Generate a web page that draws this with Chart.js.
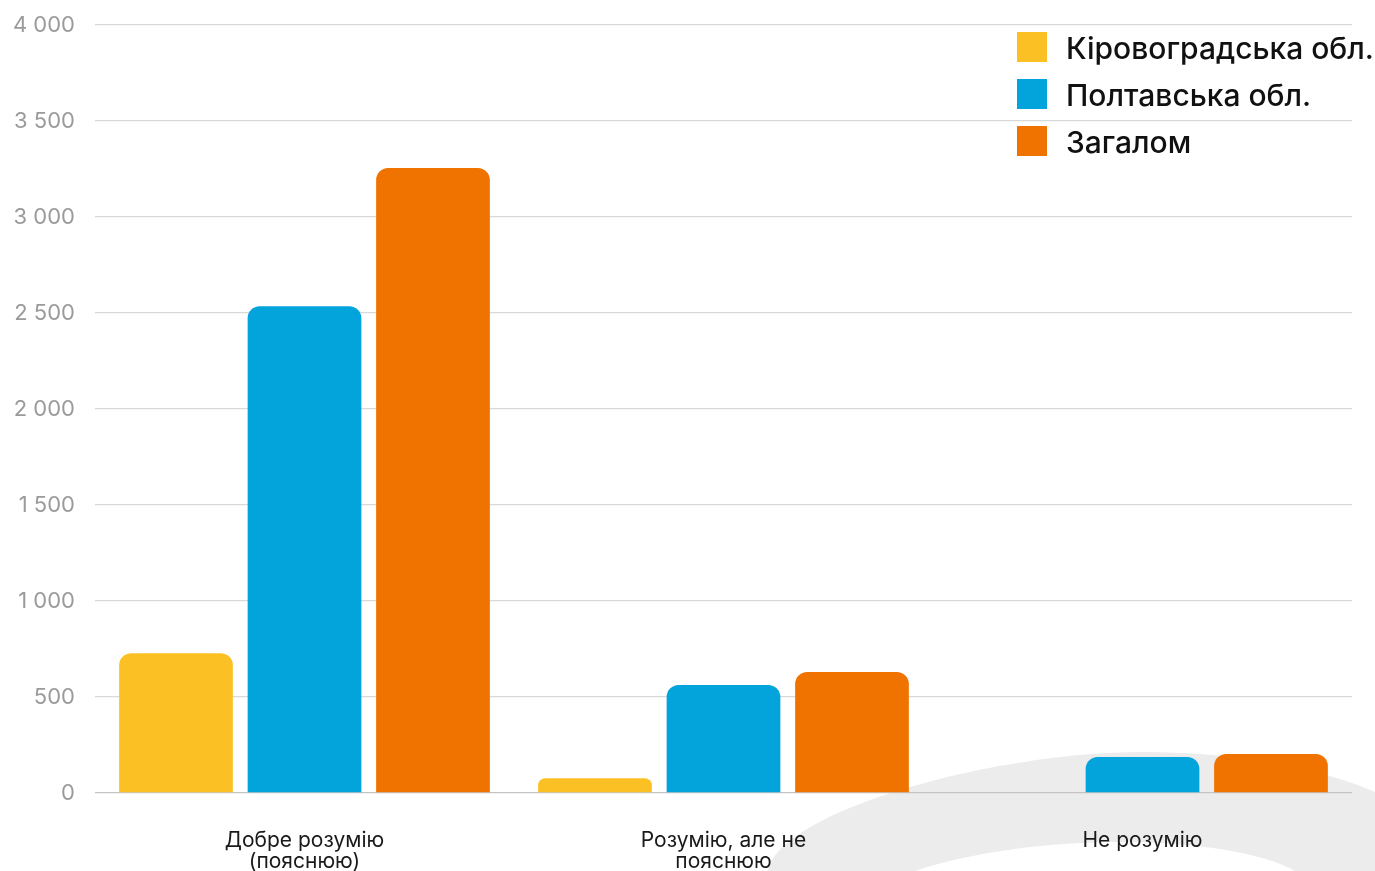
<!DOCTYPE html>
<html>
<head>
<meta charset="utf-8">
<script src="https://cdn.jsdelivr.net/npm/chart.js@4/dist/chart.umd.min.js"></script>
<style>
  html, body { margin: 0; padding: 0; background: #fff; }
  #wrap { width: 1375px; height: 871px; position: relative; }
</style>
</head>
<body>
<div id="wrap"><canvas id="myChart"></canvas></div>
<script>
// data
let categories = [
    ['Добре розумію', '(пояснюю)'],
    ['Розумію, але не', 'пояснюю'],
    'Не розумію'
];
let seriesNames = ['Кіровоградська обл.', 'Полтавська обл.', 'Загалом'];
let kirovohrad = [728, 77, null];
let poltava = [2535, 562, 187];
let total = [3255, 630, 203];
let yTicks = [0, 500, 1000, 1500, 2000, 2500, 3000, 3500, 4000];

let colors = ['#FBC124', '#03A3DC', '#F07300'];
let FONT = 'Inter, "Noto Sans", sans-serif';

// grey swoosh behind the chart
let backdrop = {
    id: 'backdrop',
    beforeDraw: function(chart) {
        let ctx = chart.ctx;
        ctx.save();
        ctx.fillStyle = '#ececec';
        ctx.beginPath();
        ctx.moveTo(768, 871);
        ctx.bezierCurveTo(780, 810, 1000, 750, 1150, 752);
        ctx.bezierCurveTo(1250, 753, 1330, 772, 1375, 792);
        ctx.lineTo(1375, 871);
        ctx.lineTo(1295, 871);
        ctx.bezierCurveTo(1230, 835, 1040, 830, 915, 871);
        ctx.closePath();
        ctx.fill();
        ctx.restore();
    }
};

// legend in top right corner, over the grid
let cornerLegend = {
    id: 'cornerLegend',
    afterDraw: function(chart) {
        let ctx = chart.ctx;
        ctx.save();
        ctx.font = '500 30px ' + FONT;
        ctx.textBaseline = 'middle';
        chart.data.datasets.forEach(function(ds, i) {
            let y = 47 + i * 47;
            ctx.fillStyle = ds.backgroundColor;
            ctx.fillRect(1017, y - 15, 30, 30);
            ctx.fillStyle = '#111';
            ctx.fillText(ds.label, 1066, y + 3);
        });
        ctx.restore();
    }
};

let data = {
    labels: categories,
    datasets: [
        { label: seriesNames[0], data: kirovohrad, backgroundColor: colors[0] },
        { label: seriesNames[1], data: poltava, backgroundColor: colors[1] },
        { label: seriesNames[2], data: total, backgroundColor: colors[2] }
    ].map(function(d) {
        d.borderRadius = { topLeft: 12, topRight: 12, bottomLeft: 0, bottomRight: 0 };
        d.borderSkipped = 'start';
        d.categoryPercentage = 0.92;
        d.barPercentage = 0.885;
        return d;
    })
};

let config = {
    type: 'bar',
    data: data,
    options: {
        responsive: true,
        maintainAspectRatio: false,
        animation: false,
        layout: { padding: { top: 25, right: 23, left: 0, bottom: 0 } },
        plugins: {
            legend: { display: false },
            tooltip: { enabled: false }
        },
        scales: {
            x: {
                grid: { display: false, drawTicks: false },
                border: { display: false },
                afterFit: function(scale) { scale.height = 78; },
                ticks: {
                    color: '#1a1a1a',
                    font: { family: FONT, size: 21, lineHeight: 1.0 },
                    padding: 37,
                    maxRotation: 0
                }
            },
            y: {
                min: 0,
                max: 4000,
                afterBuildTicks: function(scale) {
                    scale.ticks = yTicks.map(function(v) { return { value: v }; });
                },
                afterFit: function(scale) {
                    scale.width = 95;
                    // tick padding otherwise pushes the plot area down
                    scale.paddingTop = 0;
                    scale.paddingBottom = 0;
                },
                grid: {
                    color: function(c) { return c.tick.value === 0 ? '#c4c4c4' : '#d9d9d9'; },
                    lineWidth: 1.3,
                    drawTicks: false
                },
                border: { display: false },
                ticks: {
                    color: '#9a9a9a',
                    font: { family: FONT, size: 22 },
                    padding: 20,
                    callback: function(v) {
                        return String(v).replace(/\B(?=(\d{3})+(?!\d))/g, ' ');
                    }
                }
            }
        }
    },
    plugins: [backdrop, cornerLegend]
};

let myChart = new Chart(document.getElementById('myChart'), config);
</script>
</body>
</html>
